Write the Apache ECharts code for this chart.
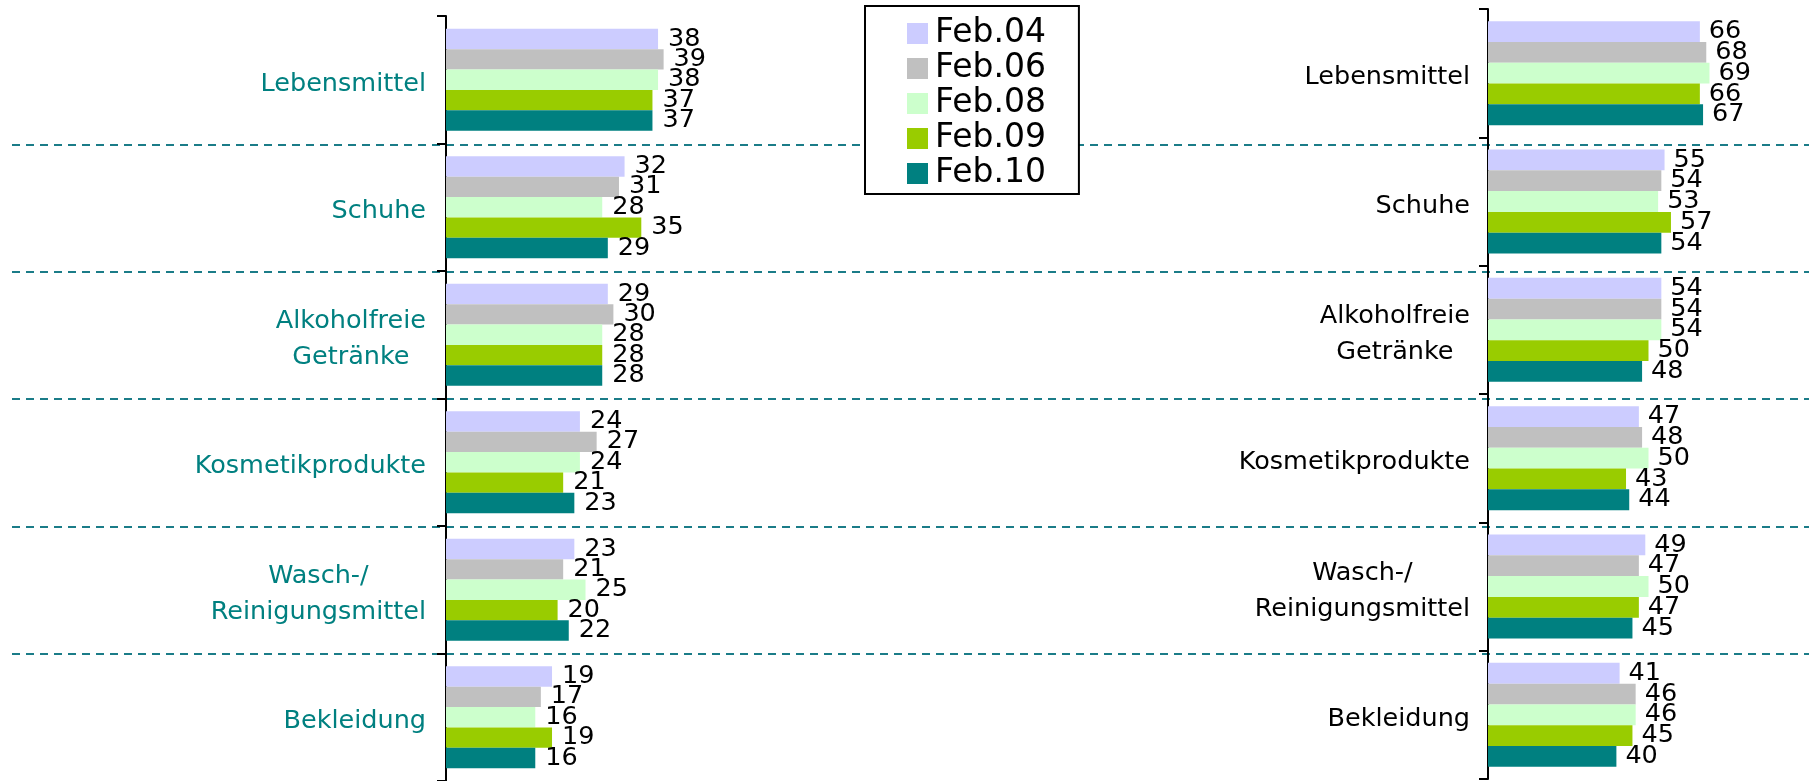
<!DOCTYPE html>
<html>
<head>
<meta charset="utf-8">
<script src="https://cdn.jsdelivr.net/npm/echarts@6/dist/echarts.min.js"></script>
<style>
html,body{margin:0;padding:0;background:#fff;}
#chart{width:1809px;height:781px;}
</style>
</head>
<body>
<div id="chart"></div>
<script>
const categories = ['Lebensmittel', 'Schuhe', 'Alkoholfreie\nGetränke', 'Kosmetikprodukte', 'Wasch-/\nReinigungsmittel', 'Bekleidung'];
const seriesNames = ['Feb.04', 'Feb.06', 'Feb.08', 'Feb.09', 'Feb.10'];
const palette = ['#CCCCFF', '#C0C0C0', '#CCFFCC', '#99CC00', '#008080'];

// left panel
const leftFeb04 = [38, 32, 29, 24, 23, 19];
const leftFeb06 = [39, 31, 30, 27, 21, 17];
const leftFeb08 = [38, 28, 28, 24, 25, 16];
const leftFeb09 = [37, 35, 28, 21, 20, 19];
const leftFeb10 = [37, 29, 28, 23, 22, 16];
// right panel
const rightFeb04 = [66, 55, 54, 47, 49, 41];
const rightFeb06 = [68, 54, 54, 48, 47, 46];
const rightFeb08 = [69, 53, 54, 50, 50, 46];
const rightFeb09 = [66, 57, 50, 43, 47, 45];
const rightFeb10 = [67, 54, 48, 44, 45, 40];

const leftData = [leftFeb04, leftFeb06, leftFeb08, leftFeb09, leftFeb10];
const rightData = [rightFeb04, rightFeb06, rightFeb08, rightFeb09, rightFeb10];

const FONT = 'DejaVu Sans';

function catLabel(v) {
  return v.split('\n').map(s => '{c|' + s + '}').join('\n');
}
function catAxis(gridIndex, color, margin) {
  return {
    type: 'category', gridIndex, data: categories, inverse: true,
    axisLine: { show: true, lineStyle: { color: '#000', width: 2 } },
    axisTick: { show: true, length: 9, lineStyle: { color: '#000', width: 2 } },
    axisLabel: {
      margin, formatter: catLabel, padding: [9, 0, 0, 0],
      rich: { c: { align: 'center', fontFamily: FONT, fontSize: 25.5, color, lineHeight: 36 } }
    },
    splitLine: { show: false }
  };
}

const series = [];
seriesNames.forEach((name, i) => {
  series.push({
    name, type: 'bar', xAxisIndex: 0, yAxisIndex: 0, data: leftData[i],
    barGap: '0%', barCategoryGap: '20%',
    itemStyle: { color: palette[i] },
    label: { show: true, position: 'right', distance: 10, color: '#000', fontFamily: FONT, fontSize: 25.5 }
  });
});
seriesNames.forEach((name, i) => {
  series.push({
    name, type: 'bar', xAxisIndex: 1, yAxisIndex: 1, data: rightData[i],
    barGap: '0%', barCategoryGap: '19%',
    itemStyle: { color: palette[i] },
    label: { show: true, position: 'right', distance: 9, color: '#000', fontFamily: FONT, fontSize: 25.5 }
  });
});

const chart = echarts.init(document.getElementById('chart'), null, { renderer: 'canvas' });
chart.setOption({
  backgroundColor: '#fff',
  animation: false,
  textStyle: { fontFamily: FONT },
  grid: [
    { left: 446, top: 16, width: 558, height: 768 },
    { left: 1488, top: 9, width: 336, height: 770 },
    { left: 12, right: 0, top: 17, height: 767 }
  ],
  xAxis: [
    { type: 'value', gridIndex: 0, min: 0, max: 100, show: false },
    { type: 'value', gridIndex: 1, min: 0, max: 100, show: false },
    { type: 'value', gridIndex: 2, min: 0, max: 100, show: false }
  ],
  yAxis: [
    catAxis(0, '#008080', 20),
    catAxis(1, '#000', 18),
    {
      type: 'category', gridIndex: 2, data: categories, inverse: true, z: 0,
      axisLine: { show: false }, axisTick: { show: false }, axisLabel: { show: false },
      splitLine: { show: true, showMinLine: false, showMaxLine: false,
        lineStyle: { color: '#1B7C88', width: 2, type: [8, 6] } }
    }
  ],
  legend: {
    data: seriesNames, orient: 'vertical', left: 865, top: 6,
    backgroundColor: '#fff', borderColor: '#000', borderWidth: 2, borderRadius: 0,
    padding: [11, 33, 4, 42], itemGap: 2, itemWidth: 21, itemHeight: 21,
    icon: 'rect', z: 10,
    textStyle: { fontFamily: FONT, fontSize: 33, color: '#000', padding: [0, 0, 0, 2] }
  },
  series
});
</script>
</body>
</html>
